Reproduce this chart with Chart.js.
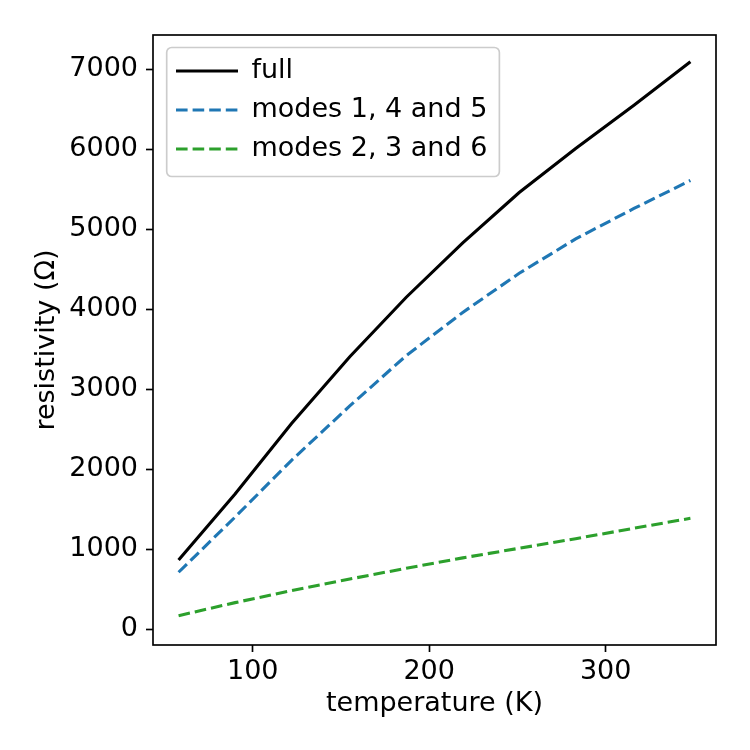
<!DOCTYPE html>
<html>
<head>
<meta charset="utf-8">
<script src="https://cdn.jsdelivr.net/npm/chart.js@4.4.1/dist/chart.umd.min.js"></script>
<style>
  body { margin: 0; background: #fff; }
  #wrap { width: 750px; height: 750px; position: relative; }
</style>
</head>
<body>
<div id="wrap"><canvas id="resChart"></canvas></div>
<script>
// values
const temperature = [58, 90, 122, 155, 187, 219, 251, 283, 316, 348];
const fullRes = [864, 1690, 2570, 3405, 4150, 4830, 5460, 6010, 6550, 7095];
const modes145 = [710, 1400, 2110, 2790, 3420, 3960, 4450, 4880, 5260, 5610];
const modes236 = [167, 330, 480, 625, 760, 890, 1010, 1130, 1260, 1385];

const xTicks = [100, 200, 300];
const yTicks = [0, 1000, 2000, 3000, 4000, 5000, 6000, 7000];

const seriesNames = ['full', 'modes 1, 4 and 5', 'modes 2, 3 and 6'];

function toPoints(ys) {
    return temperature.map((t, i) => ({ x: t, y: ys[i] }));
}

const FS = 27;
Chart.defaults.font.family = "'DejaVu Sans', sans-serif";
Chart.defaults.font.size = FS;
Chart.defaults.color = '#000';

// box round the axes (all four spines)
const spines = {
    id: 'spines',
    afterDatasetsDraw(chart) {
        const { ctx, chartArea: a } = chart;
        ctx.save();
        ctx.strokeStyle = '#000';
        ctx.lineWidth = 1.67;
        ctx.strokeRect(a.left, a.top, a.right - a.left, a.bottom - a.top);
        ctx.restore();
    }
};

// legend sits in the upper left corner of the axes, with a rounded frame
const legendBox = {
    id: 'legendBox',
    afterLayout(chart) {
        const lg = chart.legend;
        lg.left = chart.chartArea.left + 11;
        lg.top = chart.chartArea.top + 10.5;
    },
    beforeDraw(chart) {
        const lg = chart.legend;
        if (!lg || !lg.columnSizes || !lg.columnSizes.length) return;
        const pad = lg.options.labels.padding;
        const col = lg.columnSizes[0];
        const x0 = lg.left + pad - 9.3;
        const y0 = lg.top + pad - 10;
        const x1 = lg.left + pad + col.width + 12;
        const y1 = lg.top + col.height + 14;
        const { ctx } = chart;
        ctx.save();
        ctx.beginPath();
        ctx.roundRect(x0, y0, x1 - x0, y1 - y0, 5);
        ctx.fillStyle = 'rgba(255,255,255,0.8)';
        ctx.fill();
        ctx.strokeStyle = '#cccccc';
        ctx.lineWidth = 1.67;
        ctx.stroke();
        ctx.restore();
    }
};

new Chart(document.getElementById('resChart'), {
    type: 'line',
    data: {
        datasets: [
            { label: seriesNames[0], data: toPoints(fullRes), borderColor: '#000000', backgroundColor: '#000000', borderWidth: 3.1 },
            { label: seriesNames[1], data: toPoints(modes145), borderColor: '#1f77b4', backgroundColor: '#1f77b4', borderWidth: 3.1, borderDash: [11.6, 5] },
            { label: seriesNames[2], data: toPoints(modes236), borderColor: '#2ca02c', backgroundColor: '#2ca02c', borderWidth: 3.1, borderDash: [11.6, 5] }
        ]
    },
    options: {
        responsive: true,
        maintainAspectRatio: false,
        animation: false,
        elements: { point: { radius: 0 }, line: { tension: 0, fill: false } },
        layout: { padding: { left: 0, top: 35, right: 34, bottom: 0 } },
        plugins: {
            tooltip: { enabled: false },
            legend: {
                position: 'chartArea',
                align: 'start',
                labels: {
                    usePointStyle: true,
                    pointStyle: 'line',
                    pointStyleWidth: 62,
                    padding: 12,
                    color: '#000',
                    generateLabels(chart) {
                        const items = Chart.defaults.plugins.legend.labels.generateLabels(chart);
                        items.forEach(it => {
                            const ds = chart.data.datasets[it.datasetIndex];
                            it.lineDash = ds.borderDash || [];
                            it.lineWidth = ds.borderWidth;
                            it.strokeStyle = ds.borderColor;
                            it.lineCap = 'butt';
                        });
                        return items;
                    }
                }
            }
        },
        scales: {
            x: {
                type: 'linear',
                min: 43.5,
                max: 362.5,
                afterBuildTicks: s => { s.ticks = xTicks.map(v => ({ value: v })); },
                afterFit: s => { s.height = 105; },
                grid: { display: true, drawOnChartArea: false, drawTicks: true, tickLength: 7, tickWidth: 1.67, tickColor: '#000' },
                border: { display: false },
                ticks: { padding: 4, color: '#000', callback: v => String(v) },
                title: { display: true, text: 'temperature (K)', color: '#000', padding: { top: 0, bottom: 30 } }
            },
            y: {
                type: 'linear',
                min: -200,
                max: 7430,
                afterBuildTicks: s => { s.ticks = yTicks.map(v => ({ value: v })); },
                afterFit: s => { s.width = 153; },
                grid: { display: true, drawOnChartArea: false, drawTicks: true, tickLength: 7, tickWidth: 1.67, tickColor: '#000' },
                border: { display: false },
                ticks: { padding: 8, color: '#000', callback: v => String(v) },
                title: { display: true, text: 'resistivity (Ω)', color: '#000', padding: { top: 31, bottom: 0 } }
            }
        }
    },
    plugins: [legendBox, spines]
});
</script>
</body>
</html>
